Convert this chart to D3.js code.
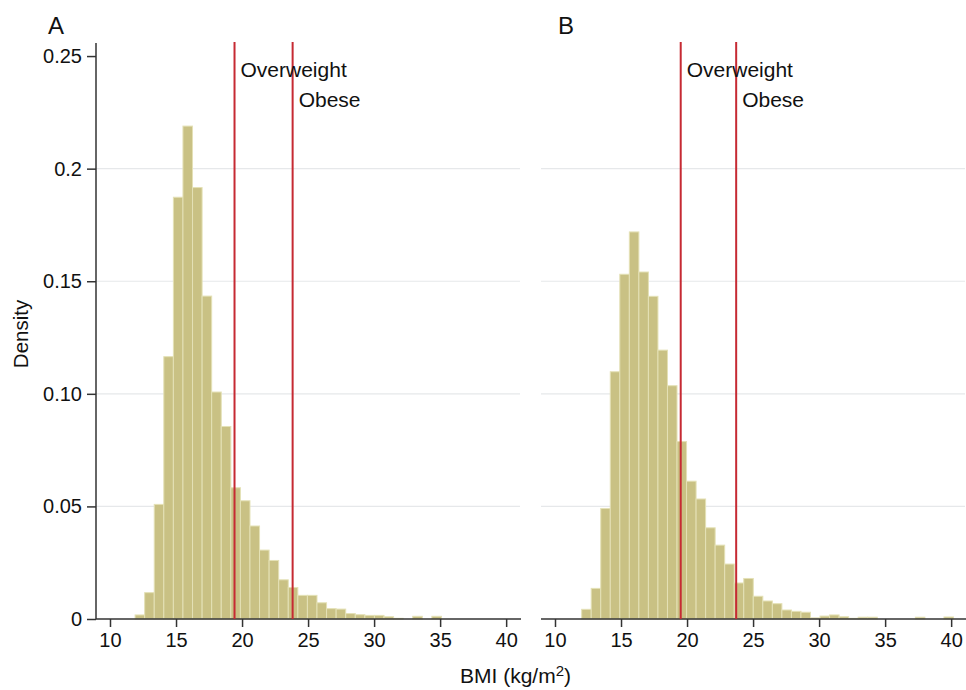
<!DOCTYPE html>
<html>
<head>
<meta charset="utf-8">
<script src="https://cdn.jsdelivr.net/npm/d3@7"></script>
<style>
  html, body { margin: 0; padding: 0; background: #ffffff; }
  svg { display: block; }
  text { font-family: "Liberation Sans", Arial, Helvetica, sans-serif; fill: #111; }
</style>
</head>
<body>
<svg id="chart" width="966" height="690"></svg>
<script>
// ---------------- data ----------------
const panelLabels = ["A", "B"];
const xTickValues = [10, 15, 20, 25, 30, 35, 40];
const yTickValues = [0, 0.05, 0.10, 0.15, 0.2, 0.25];
const yTickLabels = ["0", "0.05", "0.10", "0.15", "0.2", "0.25"];
const gridValues = [0.05, 0.10, 0.15, 0.2];

// Panel A histogram: first bin edge, bin width, densities
const binStartA = 11.9;
const binWidthA = 0.725;
const densityA = [0.0018, 0.0117, 0.0509, 0.1165, 0.1873, 0.2189, 0.1916, 0.1434, 0.1008, 0.0855,
                  0.0583, 0.0525, 0.0413, 0.0306, 0.0260, 0.0174, 0.0140, 0.0105, 0.0105, 0.0072,
                  0.0046, 0.0044, 0.0024, 0.0019, 0.0016, 0.0016, 0.0010, 0.0003, 0, 0.0012,
                  0, 0.0012];
// Panel B histogram
const binStartB = 12.02;
const binWidthB = 0.722;
const densityB = [0.0043, 0.0136, 0.0491, 0.1098, 0.1531, 0.1719, 0.1541, 0.1433, 0.1194, 0.1036,
                  0.0788, 0.0612, 0.0533, 0.0405, 0.0328, 0.0244, 0.0160, 0.0180, 0.0101, 0.0080,
                  0.0068, 0.0040, 0.0034, 0.0030, 0.0005, 0.0013, 0.0018, 0.0010, 0.0003, 0.0008,
                  0.0008, 0, 0, 0, 0, 0.0008, 0, 0, 0.0009];

// cut-off lines
const cutoffNames = ["Overweight", "Obese"];
const cutoffsA = [19.43, 23.83];
const cutoffsB = [19.52, 23.72];

const xTitle = "BMI (kg/m";
const yTitle = "Density";

// ---------------- layout ----------------
const svg = d3.select("#chart");
const plotTop = 43, plotBottom = 619;
const xDomain = [8.94, 41.2];
const y = d3.scaleLinear().domain([0, 0.2558]).range([plotBottom, plotTop]);

const panels = [
  { label: panelLabels[0], left: 96, right: 522, labelX: 48, start: binStartA, width: binWidthA, dens: densityA, cuts: cutoffsA, yAxis: true },
  { label: panelLabels[1], left: 541, right: 967, labelX: 558, start: binStartB, width: binWidthB, dens: densityB, cuts: cutoffsB, yAxis: false }
];

const barFill = "#c9c184";
const barEdge = "#e4e1b6";
const red = "#c62a33";
const axisColor = "#333";

panels.forEach(p => {
  const x = d3.scaleLinear().domain(xDomain).range([p.left, p.right]);
  const g = svg.append("g");

  // grid lines
  g.selectAll("line.grid").data(gridValues).enter().append("line")
    .attr("x1", p.left).attr("x2", p.right - 2)
    .attr("y1", d => y(d)).attr("y2", d => y(d))
    .attr("stroke", "#e6e8ea").attr("stroke-width", 1.2);

  // bars
  const bins = p.dens.map((d, i) => ({ x0: p.start + i * p.width, x1: p.start + (i + 1) * p.width, v: d }));
  g.selectAll("rect.bar").data(bins.filter(b => b.v > 0)).enter().append("rect")
    .attr("x", b => x(b.x0))
    .attr("width", b => x(b.x1) - x(b.x0))
    .attr("y", b => y(b.v))
    .attr("height", b => y(0) - y(b.v))
    .attr("fill", barFill)
    .attr("stroke", barEdge)
    .attr("stroke-width", 1);

  // x axis
  const xAxis = d3.axisBottom(x).tickValues(xTickValues).tickSize(8).tickPadding(6).tickFormat(d3.format("d"));
  const ax = g.append("g").attr("transform", `translate(0,${plotBottom})`).call(xAxis);
  ax.select(".domain").attr("d", `M${p.left},0H${p.right - 1}`).attr("stroke", axisColor).attr("stroke-width", 1.5);
  ax.selectAll(".tick line").attr("stroke", axisColor).attr("stroke-width", 1.5);
  ax.selectAll(".tick text").attr("font-size", 20).attr("font-family", "Liberation Sans, Arial, sans-serif").attr("fill", "#111").attr("dy", "0.72em");

  // y axis (only panel A)
  if (p.yAxis) {
    const yAxis = d3.axisLeft(y).tickValues(yTickValues).tickSize(9).tickPadding(5)
      .tickFormat((d, i) => yTickLabels[i]);
    const ay = g.append("g").attr("transform", `translate(${p.left},0)`).call(yAxis);
    ay.select(".domain").attr("d", `M0,${plotTop}V${plotBottom}`).attr("stroke", axisColor).attr("stroke-width", 1.5);
    ay.selectAll(".tick line").attr("stroke", axisColor).attr("stroke-width", 1.5);
    ay.selectAll(".tick text").attr("font-size", 20).attr("font-family", "Liberation Sans, Arial, sans-serif").attr("fill", "#111");
  }

  // cutoff lines
  g.selectAll("line.cut").data(p.cuts).enter().append("line")
    .attr("x1", d => x(d)).attr("x2", d => x(d))
    .attr("y1", plotTop - 1).attr("y2", plotBottom)
    .attr("stroke", red).attr("stroke-width", 2);

  // cutoff labels
  g.selectAll("text.cutlab").data(p.cuts).enter().append("text")
    .attr("x", d => x(d) + 6)
    .attr("y", (d, i) => i === 0 ? 77 : 107)
    .attr("font-size", 21)
    .text((d, i) => cutoffNames[i]);

  // panel letter
  g.append("text")
    .attr("x", p.labelX)
    .attr("y", 34)
    .attr("font-size", 24)
    .text(p.label);
});

// y title
svg.append("text")
  .attr("transform", "translate(28,334) rotate(-90)")
  .attr("text-anchor", "middle")
  .attr("font-size", 20.5)
  .text(yTitle);

// x title with superscript
const xt = svg.append("text")
  .attr("x", 460).attr("y", 683)
  .attr("font-size", 21);
xt.append("tspan").text(xTitle);
xt.append("tspan").attr("font-size", 15).attr("dy", -7).text("2");
xt.append("tspan").attr("dy", 7).text(")");
</script>
</body>
</html>
